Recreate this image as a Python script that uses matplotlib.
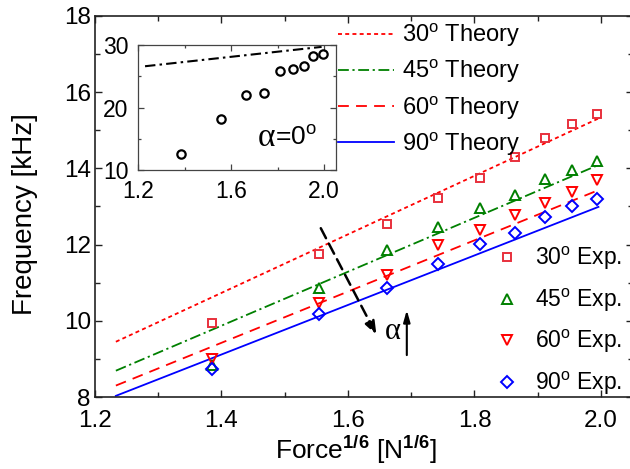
import numpy as np
import matplotlib
matplotlib.use("Agg")
import matplotlib.pyplot as plt
from matplotlib.ticker import MultipleLocator, FormatStrFormatter

plt.rcParams['font.family'] = ['Liberation Sans', 'DejaVu Sans']
plt.rcParams['mathtext.fontset'] = 'custom'
plt.rcParams['mathtext.rm'] = 'Liberation Sans'
plt.rcParams['mathtext.it'] = 'Liberation Sans:italic'
plt.rcParams['mathtext.bf'] = 'Liberation Sans:bold'

# ---------------- data ----------------
force16 = [1.385, 1.554, 1.662, 1.743, 1.809, 1.864, 1.912, 1.954, 1.994]
exp30 = [9.95, 11.75, 12.53, 13.23, 13.76, 14.30, 14.81, 15.16, 15.42]
exp45 = [8.84, 10.87, 11.85, 12.47, 12.95, 13.31, 13.71, 13.96, 14.20]
exp60 = [9.00, 10.47, 11.20, 11.99, 12.38, 12.78, 13.10, 13.39, 13.70]
exp90 = [8.73, 10.17, 10.85, 11.49, 12.02, 12.30, 12.73, 13.00, 13.20]

theory_x = [1.233, 1.996]
theory30 = [9.45, 15.31]
theory45 = [8.69, 14.09]
theory60 = [8.30, 13.43]
theory90 = [8.03, 12.99]

inset_exp0 = [12.5, 18.1, 22.0, 22.3, 25.9, 26.1, 26.6, 28.3, 28.6]
inset_theory_x = [1.229, 1.989]
inset_theory0 = [26.6, 29.7]

arrow_start = (1.557, 12.43)
arrow_end = (1.645, 9.63)

W, H = 630, 469
fig = plt.figure(figsize=(W / 100, H / 100), dpi=100)

def px_box(x0, y0, x1, y1):
    return [x0 / W, 1 - y1 / H, (x1 - x0) / W, (y1 - y0) / H]

ax = fig.add_axes(px_box(95, 16, 632.6, 397))

red = '#FF0000'
sq_red = '#E8303C'
green = '#008000'
blue = '#0000FF'

l30, = ax.plot(theory_x, theory30, color=red, lw=1.3, linestyle=(0, (2.2, 1.8)))
l45, = ax.plot(theory_x, theory45, color=green, lw=1.3, linestyle=(0, (6, 2, 1.2, 2)))
l60, = ax.plot(theory_x, theory60, color=red, lw=1.3, linestyle=(0, (6, 4)))
l90, = ax.plot(theory_x, theory90, color=blue, lw=1.3, linestyle='-')

m30, = ax.plot(force16, exp30, ls='none', marker='s', ms=5.5, mfc='none', mec=sq_red, mew=1.4)
m45, = ax.plot(force16, exp45, ls='none', marker='^', ms=7, mfc='none', mec=green, mew=1.4)
m60, = ax.plot(force16, exp60, ls='none', marker='v', ms=7, mfc='none', mec=red, mew=1.4)
m90, = ax.plot(force16, exp90, ls='none', marker='D', ms=6, mfc='none', mec=blue, mew=1.4)

ax.set_xlim(1.2, 2.05)
ax.set_ylim(8, 18)
ax.xaxis.set_major_locator(MultipleLocator(0.2))
ax.xaxis.set_minor_locator(MultipleLocator(0.1))
ax.yaxis.set_major_locator(MultipleLocator(2))
ax.yaxis.set_minor_locator(MultipleLocator(1))
ax.xaxis.set_major_formatter(FormatStrFormatter('%.1f'))
ax.tick_params(which='both', direction='in', top=True, right=True, width=1.0, colors='#222222')
ax.tick_params(which='major', length=5)
ax.tick_params(which='minor', length=3.5)
ax.tick_params(axis='x', which='major', pad=9.5, labelsize=17.5, labelcolor='black')
ax.tick_params(axis='y', which='major', pad=3, labelsize=17.5, labelcolor='black')
for s in ax.spines.values():
    s.set_linewidth(1.2)
    s.set_color('#222222')

ax.set_xlabel(r'Force$^{\mathbf{1/6}}$ [N$^{\mathbf{1/6}}$]', fontsize=19)
ax.set_ylabel('Frequency [kHz]', fontsize=20)
ax.yaxis.set_label_coords(-0.1055, 0.48)
ax.xaxis.set_label_coords(0.485, -0.097)

# arrows
ax.annotate('', xy=arrow_end, xytext=arrow_start,
            arrowprops=dict(arrowstyle='-|>,head_length=0.8,head_width=0.3', color='black',
                            lw=1.8, linestyle=(0, (4.5, 2.5)), shrinkA=0, shrinkB=0))
ax.annotate('', xy=(1.693, 10.28), xytext=(1.693, 9.10),
            arrowprops=dict(arrowstyle='-|>,head_length=0.7,head_width=0.2', color='black',
                            lw=1.5, shrinkA=0, shrinkB=0))
ax.text(1.671, 9.71, 'α', fontsize=22, family='Liberation Serif', ha='center', va='center')

# legends
leg1 = ax.legend([l30, l45, l60, l90],
                 [r'30$^{\rm o}$ Theory', r'45$^{\rm o}$ Theory', r'60$^{\rm o}$ Theory', r'90$^{\rm o}$ Theory'],
                 loc='upper left', bbox_to_anchor=(338 / W, 1 - 22 / H), bbox_transform=fig.transFigure,
                 frameon=False, fontsize=17, handlelength=2.37, handletextpad=0.33,
                 labelspacing=0.38, borderpad=0, borderaxespad=0)
ax.add_artist(leg1)
ax.legend([m30, m45, m60, m90],
          [r'30$^{\rm o}$ Exp.', r'45$^{\rm o}$ Exp.', r'60$^{\rm o}$ Exp.', r'90$^{\rm o}$ Exp.'],
          loc='upper left', bbox_to_anchor=(496 / W, 1 - 245 / H), bbox_transform=fig.transFigure,
          frameon=False, fontsize=16.5, handlelength=1.0, handletextpad=0.72, numpoints=1,
          labelspacing=0.63, borderpad=0, borderaxespad=0)

# inset
ax2 = fig.add_axes(px_box(138.3, 45, 335.8, 170))
ax2.plot(inset_theory_x, inset_theory0, color='black', lw=1.5, linestyle=(0, (5, 2, 1.2, 2)))
ax2.plot(force16, inset_exp0, ls='none', marker='o', ms=6, mfc='none', mec='black', mew=1.6)
ax2.set_xlim(1.2, 2.05)
ax2.set_ylim(10, 30)
ax2.xaxis.set_major_locator(MultipleLocator(0.4))
ax2.xaxis.set_minor_locator(MultipleLocator(0.2))
ax2.yaxis.set_major_locator(MultipleLocator(10))
ax2.yaxis.set_minor_locator(MultipleLocator(5))
ax2.xaxis.set_major_formatter(FormatStrFormatter('%.1f'))
ax2.tick_params(which='both', direction='in', top=True, right=True, width=0.9, colors='#444444',
                labelcolor='black', labelsize=16.5)
ax2.tick_params(which='major', length=4)
ax2.tick_params(which='minor', length=2.5)
ax2.tick_params(axis='x', pad=7)
ax2.tick_params(axis='y', pad=7)
for s in ax2.spines.values():
    s.set_linewidth(0.9)
    s.set_color('#444444')
ax2.text(1.788, 15.1, 'α', fontsize=24, family='Liberation Serif', ha='right', va='center')
ax2.text(1.788, 15.1, r'=0$^{\rm o}$', fontsize=19, ha='left', va='center')

fig.savefig('out.png', dpi=100)
